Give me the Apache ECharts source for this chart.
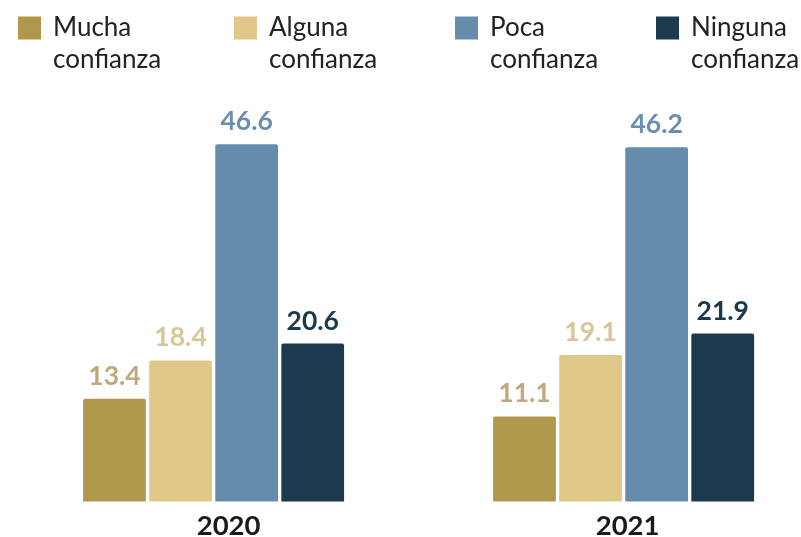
<!DOCTYPE html>
<html>
<head>
<meta charset="utf-8">
<script src="https://cdn.jsdelivr.net/npm/echarts@6/dist/echarts.min.js"></script>
<style>
html,body{margin:0;padding:0;background:#fff;}
#chart{width:801px;height:537px;}
</style>
</head>
<body>
<div id="chart"></div>
<script>
const categories = ['2020', '2021'];
const seriesNames = ['Mucha\nconfianza', 'Alguna\nconfianza', 'Poca\nconfianza', 'Ninguna\nconfianza'];
const mucha = [13.4, 11.1];
const alguna = [18.4, 19.1];
const poca = [46.6, 46.2];
const ninguna = [20.6, 21.9];

const values = [mucha, alguna, poca, ninguna];
const barColors = ['#b0974b', '#e0c988', '#668dae', '#1c394e'];
const labelColors = ['#c4a77b', '#d8c796', '#6a8db0', '#1c394e'];
const legendLeft = [18, 234, 455, 656];
const FONT = 'Lato, "Noto Sans", sans-serif';

const chart = echarts.init(document.getElementById('chart'), null, {renderer: 'canvas'});

const legends = seriesNames.map((n, i) => ({
  data: [n],
  left: legendLeft[i],
  top: -20,
  padding: 0,
  itemWidth: 23,
  itemHeight: 23,
  icon: 'rect',
  selectedMode: false,
  formatter: name => '\n' + name,
  textStyle: {
    fontFamily: FONT,
    fontSize: 26,
    color: '#222222',
    lineHeight: 32,
    padding: [0, 0, 0, 7]
  }
}));

const series = seriesNames.map((n, i) => ({
  name: n,
  type: 'bar',
  data: values[i],
  barWidth: 62.75,
  barGap: '5.3%',
  itemStyle: {color: barColors[i], borderRadius: [2, 2, 0, 0]},
  label: {
    show: true,
    position: 'top',
    distance: 9,
    fontFamily: FONT,
    fontSize: 26.5,
    fontWeight: 'bold',
    color: labelColors[i],
    formatter: p => p.value.toFixed(1)
  }
}));

chart.setOption({
  animation: false,
  legend: legends,
  grid: {left: 8.6, top: 41.5, height: 460, width: 820, containLabel: false, outerBoundsMode: 'none'},
  xAxis: {
    type: 'category',
    data: categories,
    axisLine: {show: false},
    axisTick: {show: false},
    axisLabel: {
      margin: 11,
      formatter: v => '{y' + v + '|' + v + '}',
      rich: {
        y2020: {fontFamily: FONT, fontSize: 27.5, fontWeight: 'bold', color: '#1a1a1a', padding: [0, 0, 0, 30]},
        y2021: {fontFamily: FONT, fontSize: 27.5, fontWeight: 'bold', color: '#1a1a1a', padding: [0, 0, 0, 8]}
      }
    }
  },
  yAxis: {
    type: 'value',
    min: 0,
    max: 60,
    show: false,
    splitLine: {show: false}
  },
  series: series
});
</script>
</body>
</html>
